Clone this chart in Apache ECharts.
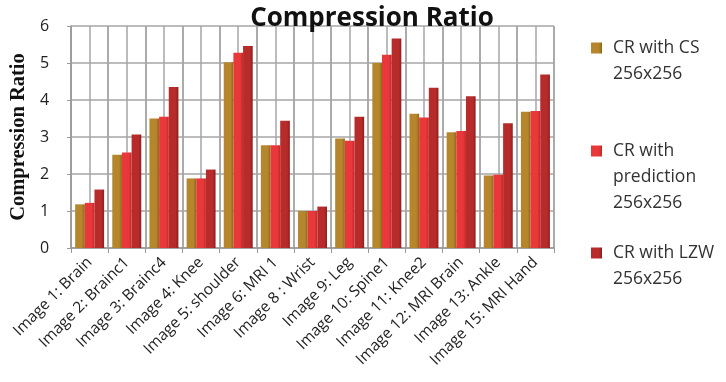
<!DOCTYPE html>
<html><head><meta charset="utf-8">
<script src="https://cdn.jsdelivr.net/npm/echarts@6/dist/echarts.min.js"></script>
<style>html,body{margin:0;padding:0;background:#fff}#c{width:726px;height:382px}</style>
</head><body><div id="c"></div>
<script>
const categories = ['Image 1: Brain','Image 2: Brainc1','Image 3: Brainc4','Image 4: Knee','Image 5: shoulder','Image 6: MRI 1','Image 8 : Wrist','Image 9: Leg','Image 10: Spine1','Image 11: Knee2','Image 12: MRI Brain','Image 13: Ankle','Image 15: MRI Hand'];
const seriesNames = ['CR with CS 256x256','CR with prediction 256x256','CR with LZW 256x256'];
const legendLines = [['CR with CS','256x256'],['CR with','prediction','256x256'],['CR with LZW','256x256']];
const crCS   = [1.18, 2.52, 3.50, 1.88, 5.02, 2.78, 1.00, 2.96, 5.00, 3.63, 3.13, 1.96, 3.68];
const crPred = [1.22, 2.58, 3.55, 1.88, 5.28, 2.78, 1.00, 2.90, 5.22, 3.53, 3.16, 1.98, 3.70];
const crLZW  = [1.58, 3.07, 4.35, 2.12, 5.46, 3.44, 1.12, 3.55, 5.66, 4.33, 4.10, 3.37, 4.69];
const yTicks = [0,1,2,3,4,5,6];

const colors = ['#B5862B','#E8383A','#B72B2B'];
const dark = ['#8E6619','#C42727','#8E1E1E'];
const halfCats = [];
for (let i = 0; i < categories.length * 2; i++) halfCats.push('');

const chart = echarts.init(document.getElementById('c'));
function grad(i){
  return new echarts.graphic.LinearGradient(0,0,1,0,[
    {offset:0,color:colors[i]},{offset:0.7,color:colors[i]},{offset:1,color:dark[i]}]);
}
const vals = [crCS, crPred, crLZW];
const LH = 26;
const firstLineY = [48, 151, 253];
chart.setOption({
  animation:false,
  title:{text:'Compression Ratio',left:367,textAlign:'center',top:1,
    textStyle:{fontFamily:'Open Sans',fontWeight:'bold',fontSize:26,color:'#111'}},
  legend: seriesNames.map((n,i)=>{
    const lines = legendLines[i];
    const pad = [];
    for (let k = 0; k < lines.length - 1; k++) pad.push(' ');
    const txt = pad.concat(lines).join('\n');
    return {orient:'vertical',left:591,top:firstLineY[i] - (lines.length - 1) * LH - LH / 2,
      itemWidth:11,itemHeight:11,icon:'rect',itemGap:10,padding:0,
      formatter:()=>txt,
      textStyle:{fontFamily:'Open Sans',fontSize:17.5,color:'#333',lineHeight:LH,padding:[0,0,0,6]},
      data:[n]};
  }),
  grid:{left:67,right:172,top:26,bottom:134},
  xAxis:[{type:'category',data:categories,
    axisLine:{show:true,lineStyle:{color:'#999',width:1.5}},
    axisTick:{show:true,length:5,lineStyle:{color:'#999'}},
    axisLabel:{rotate:45,interval:0,fontFamily:'Open Sans',fontSize:15.5,color:'#222',margin:12},
    splitLine:{show:true,lineStyle:{color:'#A6A6A6',width:1.5}}},
    {type:'category',data:halfCats,position:'bottom',
    axisLine:{show:false},axisTick:{show:false},axisLabel:{show:false},
    splitLine:{show:true,lineStyle:{color:'#A6A6A6',width:1.5}}}],
  yAxis:{type:'value',min:yTicks[0],max:yTicks[yTicks.length-1],interval:1,
    name:'Compression Ratio',nameLocation:'middle',nameGap:40,nameRotate:90,
    nameTextStyle:{fontFamily:'Liberation Serif',fontWeight:'bold',fontSize:20.5,color:'#111'},
    axisLine:{show:true,lineStyle:{color:'#999',width:1.5}},
    axisTick:{show:true,length:4,lineStyle:{color:'#999'}},
    axisLabel:{fontFamily:'Open Sans',fontSize:16,color:'#222',margin:22},
    splitLine:{show:true,lineStyle:{color:'#A6A6A6',width:1.5}}},
  series: vals.map((v,i)=>({
    name:seriesNames[i],type:'bar',data:v,barGap:'0%',barCategoryGap:'22%',
    itemStyle:{color:grad(i)}
  })),
  color:colors
});
</script></body></html>
